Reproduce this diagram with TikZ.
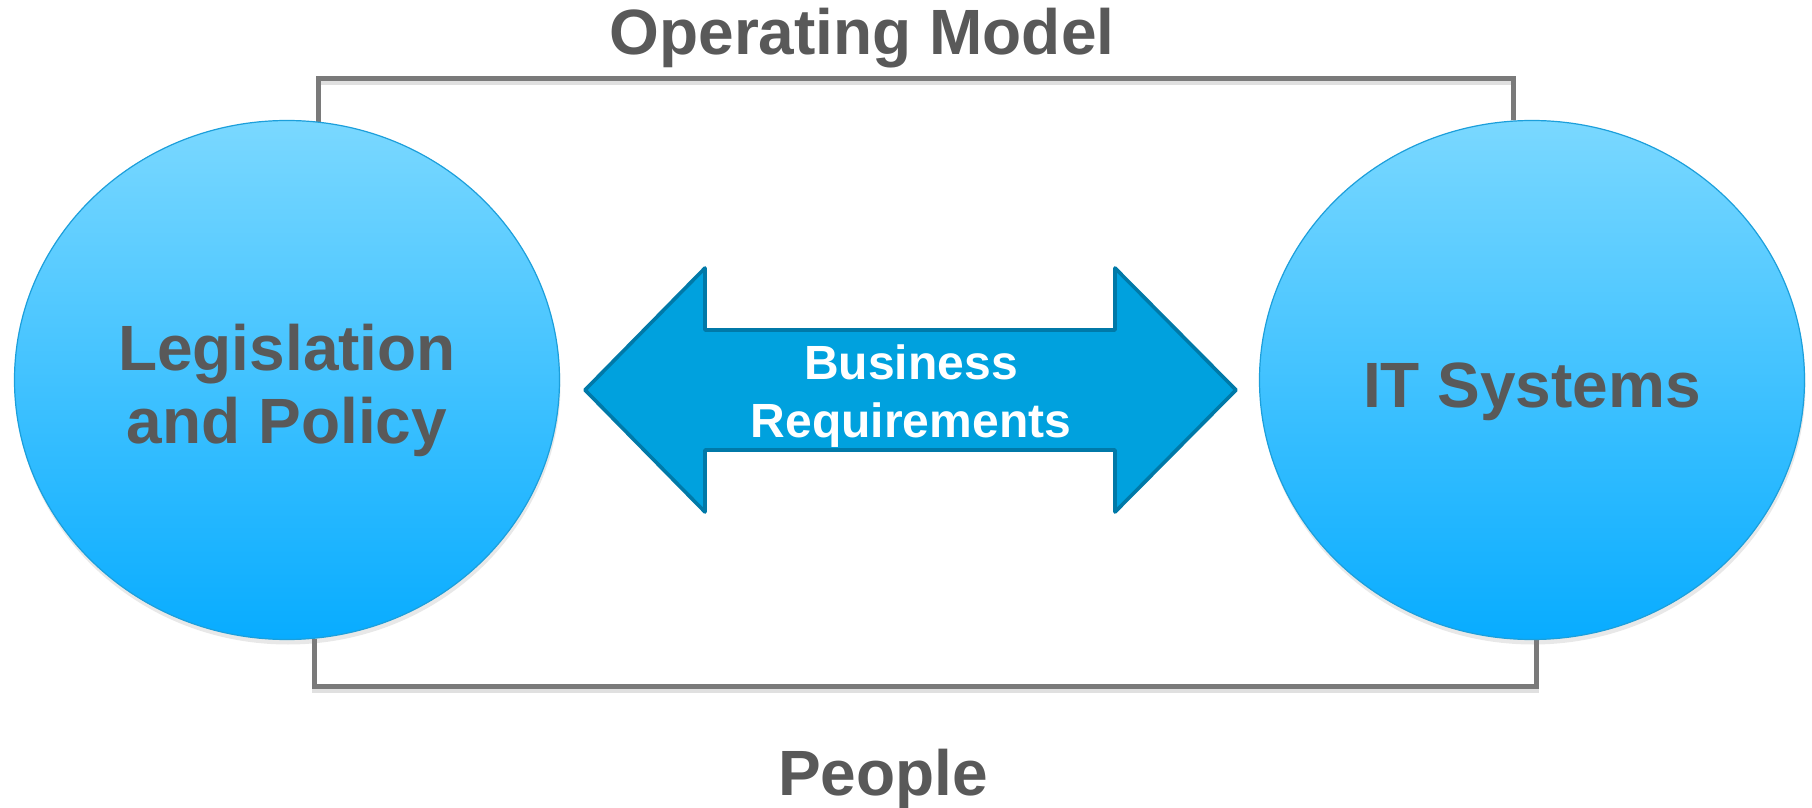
\documentclass[tikz,border=0pt]{standalone}
\usepackage{fontspec}
\setmainfont{Liberation Sans}
\usetikzlibrary{shapes.geometric,shadows,backgrounds}
\definecolor{txtgray}{HTML}{595959}
\definecolor{linegray}{HTML}{7A7A7A}
\definecolor{skytop}{HTML}{7AD8FF}
\definecolor{skybot}{HTML}{08ACFF}
\definecolor{skyedge}{HTML}{1C9FDB}
\definecolor{arrfill}{HTML}{00A1DE}
\definecolor{arredge}{HTML}{0079A8}
\begin{document}
\begin{tikzpicture}[x=.5pt, y=-.5pt, text=txtgray,
    font=\bfseries\fontsize{32}{36.5}\selectfont,
    blob/.style={ellipse, inner sep=0pt, minimum width=272.5pt, minimum height=259.5pt,
      top color=skytop, bottom color=skybot, draw=skyedge, line width=.6pt,
      drop shadow={opacity=.18, shadow xshift=.5pt, shadow yshift=-2.5pt}},
    bracket/.style={draw=linegray, line width=2.5pt,
      preaction={draw=black!12, line width=2.5pt, transform canvas={yshift=-2pt}}},
    bigarrow/.style={fill=arrfill, draw=arredge, line width=1.8pt, line join=round},
    title/.style={anchor=base, inner sep=0pt}]
  \useasboundingbox (0,0) rectangle (1812,808);
  \def\barup{79} \def\bardown{686}
  % the two circles
  \node[blob] (leg) at (287,380) {};
  \node[blob] (its) at (1532,380) {};
  % operating model / people brackets
  \coordinate (topbar) at (0,\barup);
  \coordinate (botbar) at (0,\bardown);
  \begin{scope}[on background layer]
    \draw[bracket] (leg.83) -- (leg.83 |- topbar) -- (its.94 |- topbar) -- (its.94);
    \draw[bracket] (leg.-84) -- (leg.-84 |- botbar) -- (its.-89 |- botbar) -- (its.-89);
  \end{scope}
  \node[title] (opm) at (862,55) {Operating Model};
  \node[title] (ppl) at (883,795) {People};
  % labels in the circles
  \node[align=center, inner sep=0pt] (legtxt) at (287,390) {Legislation\\and Policy};
  \node[title] (itstxt) at (1532,407) {IT Systems};
  % double arrow
  \draw[bigarrow] (585,390) -- (705,268) -- (705,330) -- (1115,330) -- (1115,268)
    -- (1236,390) -- (1115,512) -- (1115,450) -- (705,450) -- (705,512) -- cycle;
  \node[align=center, inner sep=0pt, text=white,
    font=\bfseries\fontsize{24}{29}\selectfont] (req) at (911,396) {Business\\Requirements};
\end{tikzpicture}
\end{document}
